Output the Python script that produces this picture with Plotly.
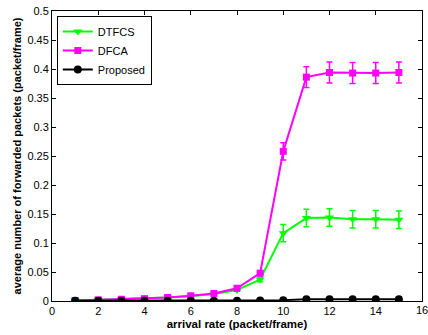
import plotly.graph_objects as go

x = list(range(1, 16))
dtfcs = [0.001, 0.002, 0.003, 0.004, 0.006, 0.008, 0.012, 0.019, 0.037, 0.117, 0.143, 0.144, 0.141, 0.141, 0.140]
dtfcs_err = [0.0005, 0.0005, 0.001, 0.001, 0.001, 0.001, 0.0015, 0.002, 0.004, 0.015, 0.015, 0.015, 0.015, 0.015, 0.015]
dfca = [0.001, 0.002, 0.003, 0.004, 0.006, 0.009, 0.013, 0.022, 0.048, 0.258, 0.386, 0.394, 0.393, 0.393, 0.394]
dfca_err = [0.0005, 0.0005, 0.001, 0.001, 0.001, 0.001, 0.0015, 0.002, 0.004, 0.015, 0.018, 0.018, 0.018, 0.018, 0.018]
proposed = [0.0003, 0.0003, 0.0003, 0.0003, 0.0003, 0.0003, 0.0004, 0.0005, 0.0007, 0.0015, 0.003, 0.003, 0.003, 0.003, 0.003]

xticks = list(range(0, 17, 2))
yticks = [0, 0.05, 0.1, 0.15, 0.2, 0.25, 0.3, 0.35, 0.4, 0.45, 0.5]
ytick_text = ["0", "0.05", "0.1", "0.15", "0.2", "0.25", "0.3", "0.35", "0.4", "0.45", "0.5"]

FONT = "Liberation Sans, Arial"

fig = go.Figure()
fig.add_trace(go.Scatter(
    x=x, y=dtfcs, name="DTFCS", mode="lines+markers",
    line=dict(color="#00ff00", width=2),
    marker=dict(symbol="triangle-down", size=8, color="#00ff00"),
    error_y=dict(type="data", array=dtfcs_err, color="#00ff00", thickness=1.5, width=3),
))
fig.add_trace(go.Scatter(
    x=x, y=dfca, name="DFCA", mode="lines+markers",
    line=dict(color="#ff00ff", width=2),
    marker=dict(symbol="square", size=7, color="#ff00ff"),
    error_y=dict(type="data", array=dfca_err, color="#ff00ff", thickness=1.5, width=3),
))
fig.add_trace(go.Scatter(
    x=x, y=proposed, name="Proposed", mode="lines+markers",
    line=dict(color="black", width=2),
    marker=dict(symbol="circle", size=8, color="black"),
))

axis_common = dict(
    showline=True, linecolor="black", linewidth=1, mirror="ticks",
    ticks="inside", ticklen=4, tickcolor="black", showgrid=False, zeroline=False,
    tickfont=dict(family=FONT, size=11, color="black"),
)
fig.update_xaxes(range=[0, 16], tickvals=xticks[:-1], **axis_common,
                 title=dict(text="<b>arrival rate (packet/frame)</b>", standoff=3,
                            font=dict(family=FONT, size=11.5, color="black")))
fig.update_yaxes(range=[0, 0.5], tickvals=yticks, ticktext=ytick_text, **axis_common,
                 title=dict(text="<b>average number of forwarded packets (packet/frame)</b>", standoff=3,
                            font=dict(family=FONT, size=11, color="black")))

# last x tick label (partly cut by the page edge, as in the original)
fig.add_annotation(x=xticks[-1], y=0, xref="x", yref="paper", text=str(xticks[-1]),
                   showarrow=False, yanchor="top", xanchor="center", yshift=-1,
                   font=dict(family=FONT, size=11, color="black"))
fig.add_shape(type="line", x0=xticks[-1], x1=xticks[-1], y0=0, y1=0, xref="x", yref="paper",
              line=dict(color="black", width=0))

fig.update_layout(
    width=428, height=335,
    margin=dict(l=52, r=5, t=8, b=34),
    paper_bgcolor="white", plot_bgcolor="white",
    showlegend=True,
    legend=dict(x=0.013, y=0.983, xanchor="left", yanchor="top",
                bordercolor="black", borderwidth=1, bgcolor="white",
                font=dict(family=FONT, size=11, color="black"),
                tracegroupgap=0, itemwidth=30),
)

fig.write_html("out.html")
